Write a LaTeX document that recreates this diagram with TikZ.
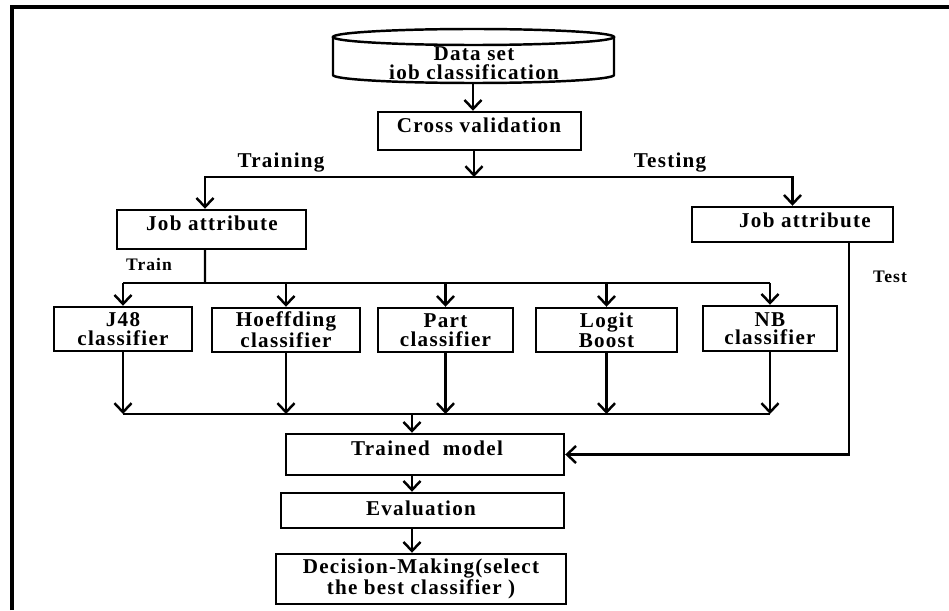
\documentclass[tikz,border=0pt]{standalone}
\usepackage{fontspec}
\setmainfont{Liberation Serif}[LetterSpace=6]
\usetikzlibrary{arrows.meta}
\begin{document}
\begin{tikzpicture}[
  box/.style={draw,line width=1.4pt,inner sep=0pt,align=center,font=\bfseries\fontsize{12}{10.5}\selectfont},
  txt/.style={inner sep=0pt,align=center,font=\bfseries\fontsize{12}{10.5}\selectfont},
  small/.style={inner sep=0pt,font=\bfseries\fontsize{10}{10}\selectfont},
  ln/.style={line width=1.4pt},
  arr/.style={line width=1.4pt,-{Straight Barb[length=1.8mm,width=3.4mm]}}]
\useasboundingbox (0cm,0cm) rectangle (18.98cm,12.2cm);
\draw[line width=1.9pt] (0.24cm,0cm) -- (0.24cm,12.06cm) -- (18.98cm,12.06cm);
% data set drum
\draw[ln] (9.47cm,11.46cm) ellipse (2.81cm and 0.16cm);
\draw[ln] (6.66cm,11.46cm) -- (6.66cm,10.70cm) arc (180:360:2.81cm and 0.16cm) -- (12.28cm,11.46cm);
\node (ds) at (9.48cm,10.94cm) [txt] {Data set\\iob classification};
\coordinate (dsb) at (9.46cm,10.54cm);
% cross validation
\node (cv) at (9.59cm,9.58cm) [box,minimum width=4.06cm,minimum height=0.76cm] {};
\node (cvt) at (9.58cm,9.70cm) [txt] {Cross validation};
\draw[arr] (dsb) -- (dsb |- cv.north);
\coordinate (split) at (9.48cm,8.66cm);
\draw[arr] (split |- cv.south) -- (split);
% job attributes
\node (jaL) at (4.23cm,7.61cm) [box,minimum width=3.78cm,minimum height=0.78cm] {};
\node (jaLt) at (4.24cm,7.74cm) [txt] {Job attribute};
\node (jaR) at (15.85cm,7.71cm) [box,minimum width=4.02cm,minimum height=0.70cm] {};
\node (jaRt) at (16.10cm,7.80cm) [txt] {Job attribute};
\draw[arr] (split) -| ([xshift=-0.13cm]jaL.north);
\draw[arr] (split) -| (jaR.north);
\node (trn) at (5.62cm,8.94cm) [txt] {Training};
\node (tst) at (13.40cm,8.94cm) [txt] {Testing};
% classifiers
\node (c1) at (2.46cm,5.62cm) [box,minimum width=2.76cm,minimum height=0.88cm] {J48\\classifier};
\node (c2) at (5.72cm,5.60cm) [box,minimum width=2.96cm,minimum height=0.88cm] {Hoeffding\\classifier};
\node (c3) at (8.91cm,5.60cm) [box,minimum width=2.70cm,minimum height=0.88cm] {Part\\classifier};
\node (c4) at (12.13cm,5.60cm) [box,minimum width=2.82cm,minimum height=0.88cm] {Logit\\Boost};
\node (c5) at (15.40cm,5.63cm) [box,minimum width=2.68cm,minimum height=0.90cm] {NB\\classifier};
\coordinate (fan) at (4.10cm,6.54cm);
\node (trainlbl) at (2.98cm,6.92cm) [small] {Train};
\draw[ln] ([xshift=-0.13cm]jaL.south) -- (fan);
\draw[ln] (c1.north |- fan) -- (c5.north |- fan);
\foreach \c in {c1,c2,c3,c4,c5}
  \draw[arr] (\c.north |- fan) -- (\c.north);
\coordinate (merge) at (8.24cm,3.92cm);
\draw[ln] (c1.south |- merge) -- (c5.south |- merge);
\foreach \c in {c1,c2,c3,c4,c5}
  \draw[arr] (\c.south) -- (\c.south |- merge);
% model, evaluation, decision
\node (tm) at (8.50cm,3.11cm) [box,minimum width=5.56cm,minimum height=0.82cm] {};
\node (tmt) at (8.54cm,3.24cm) [txt] {Trained\ \ model};
\draw[arr] (merge) -- (merge |- tm.north);
\node (ev) at (8.45cm,1.99cm) [box,minimum width=5.66cm,minimum height=0.70cm] {};
\node (evt) at (8.42cm,2.04cm) [txt] {Evaluation};
\draw[arr] (merge |- tm.south) -- (merge |- ev.north);
\node (dm) at (8.42cm,0.62cm) [box,minimum width=5.80cm,minimum height=1.00cm] {Decision-Making(select\\the best classifier )};
\draw[arr] (merge |- ev.south) -- (merge |- dm.north);
% test branch
\draw[arr] ([xshift=1.13cm]jaR.south) |- (tm.east);
\node (testlbl) at (17.80cm,6.66cm) [small] {Test};
\end{tikzpicture}
\end{document}
